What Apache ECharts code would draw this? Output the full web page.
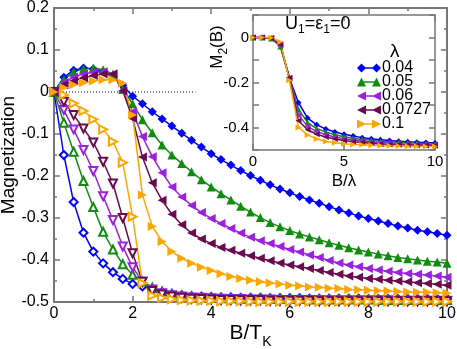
<!DOCTYPE html>
<html>
<head>
<meta charset="utf-8">
<script src="https://cdn.jsdelivr.net/npm/echarts/dist/echarts.min.js"></script>
<style>
html,body{margin:0;padding:0;background:#fff}
#chart{width:457px;height:349px}
</style>
</head>
<body>
<div id="chart"></div>
<script>
// main panel: B/T_K
var bt = [0,0.25,0.5,0.75,1,1.25,1.5,1.75,2,2.25,2.5,2.75,3,3.25,3.5,3.75,4,4.25,4.5,4.75,5,5.25,5.5,5.75,6,6.25,6.5,6.75,7,7.25,7.5,7.75,8,8.25,8.5,8.75,9,9.25,9.5,9.75,10];

// filled symbols (upper curves)
var blueFilled = [0,0.035,0.052,0.057,0.055,0.048,0.036,0.016,-0.010,-0.028,-0.047,-0.064,-0.081,-0.098,-0.115,-0.131,-0.147,-0.161,-0.174,-0.187,-0.199,-0.210,-0.221,-0.231,-0.240,-0.249,-0.257,-0.265,-0.273,-0.281,-0.288,-0.295,-0.301,-0.307,-0.313,-0.319,-0.324,-0.329,-0.333,-0.337,-0.341];
var greenFilled = [0,0.030,0.048,0.055,0.057,0.053,0.043,0.006,-0.028,-0.066,-0.097,-0.126,-0.150,-0.170,-0.190,-0.209,-0.226,-0.242,-0.257,-0.272,-0.286,-0.299,-0.311,-0.321,-0.330,-0.338,-0.345,-0.352,-0.359,-0.365,-0.371,-0.376,-0.381,-0.386,-0.390,-0.394,-0.397,-0.400,-0.403,-0.405,-0.408];
var purpleFilled = [0,0.022,0.036,0.043,0.047,0.048,0.043,0.002,-0.047,-0.106,-0.154,-0.192,-0.226,-0.250,-0.270,-0.287,-0.301,-0.313,-0.325,-0.336,-0.346,-0.354,-0.361,-0.368,-0.375,-0.381,-0.388,-0.394,-0.401,-0.407,-0.412,-0.416,-0.420,-0.424,-0.427,-0.430,-0.432,-0.434,-0.436,-0.438,-0.441];
var maroonFilled = [0,0.017,0.027,0.034,0.039,0.043,0.043,0.003,-0.063,-0.155,-0.216,-0.258,-0.291,-0.316,-0.336,-0.350,-0.361,-0.370,-0.377,-0.384,-0.390,-0.396,-0.402,-0.407,-0.412,-0.416,-0.420,-0.425,-0.430,-0.434,-0.438,-0.441,-0.444,-0.446,-0.448,-0.450,-0.452,-0.454,-0.456,-0.458,-0.460];
var orangeFilled = [0,0.011,0.017,0.022,0.026,0.029,0.029,0.021,-0.055,-0.245,-0.320,-0.356,-0.380,-0.396,-0.408,-0.417,-0.425,-0.433,-0.439,-0.444,-0.448,-0.452,-0.455,-0.457,-0.460,-0.462,-0.464,-0.465,-0.467,-0.468,-0.470,-0.471,-0.472,-0.473,-0.474,-0.475,-0.476,-0.477,-0.477,-0.478,-0.479];

// open symbols (lower curves)
var blueOpen = [0,-0.150,-0.262,-0.335,-0.380,-0.408,-0.429,-0.445,-0.457,-0.463,-0.472,-0.477,-0.481,-0.484,-0.486,-0.487,-0.488,-0.489,-0.489,-0.490,-0.490,-0.490,-0.491,-0.491,-0.491,-0.491,-0.492,-0.492,-0.492,-0.492,-0.492,-0.492,-0.493,-0.493,-0.493,-0.493,-0.493,-0.493,-0.493,-0.493,-0.493];
var greenOpen = [0,-0.073,-0.142,-0.212,-0.274,-0.333,-0.375,-0.410,-0.435,-0.451,-0.466,-0.475,-0.481,-0.485,-0.487,-0.489,-0.490,-0.491,-0.491,-0.492,-0.492,-0.492,-0.493,-0.493,-0.493,-0.493,-0.494,-0.494,-0.494,-0.494,-0.494,-0.494,-0.494,-0.495,-0.495,-0.495,-0.495,-0.495,-0.495,-0.495,-0.495];
var purpleOpen = [0,-0.043,-0.089,-0.138,-0.188,-0.248,-0.305,-0.368,-0.417,-0.452,-0.470,-0.479,-0.484,-0.487,-0.489,-0.490,-0.491,-0.492,-0.493,-0.493,-0.494,-0.494,-0.494,-0.495,-0.495,-0.495,-0.495,-0.495,-0.496,-0.496,-0.496,-0.496,-0.496,-0.496,-0.496,-0.497,-0.497,-0.497,-0.497,-0.497,-0.497];
var maroonOpen = [0,-0.023,-0.055,-0.087,-0.120,-0.166,-0.218,-0.300,-0.384,-0.452,-0.474,-0.482,-0.487,-0.490,-0.492,-0.493,-0.494,-0.495,-0.495,-0.496,-0.496,-0.496,-0.497,-0.497,-0.497,-0.497,-0.497,-0.498,-0.498,-0.498,-0.498,-0.498,-0.498,-0.498,-0.498,-0.498,-0.498,-0.498,-0.498,-0.498,-0.498];
var orangeOpen = [0,-0.007,-0.027,-0.045,-0.065,-0.089,-0.118,-0.168,-0.297,-0.455,-0.485,-0.490,-0.493,-0.495,-0.496,-0.497,-0.497,-0.498,-0.498,-0.498,-0.499,-0.499,-0.499,-0.499,-0.499,-0.499,-0.499,-0.499,-0.499,-0.499,-0.499,-0.499,-0.499,-0.499,-0.499,-0.499,-0.499,-0.499,-0.499,-0.499,-0.499];

// dotted zero reference
var zeroX = [0, 3.6];
var zeroY = [0, 0];

// inset: M2(B) vs B/lambda
var lambdas = ['0.04','0.05','0.06','0.0727','0.1'];
var ratio = [0,0.5,1,1.5,2,2.5,3,3.5,4,4.5,5,5.5,6,6.5,7,7.5,8,8.5,9,9.5,10];
var m2Blue = [0,0,-0.003,-0.035,-0.180,-0.290,-0.358,-0.388,-0.407,-0.420,-0.430,-0.438,-0.445,-0.450,-0.454,-0.458,-0.461,-0.463,-0.465,-0.467,-0.469];
var m2Green = [0,0,-0.004,-0.040,-0.180,-0.320,-0.378,-0.405,-0.420,-0.432,-0.441,-0.448,-0.453,-0.457,-0.461,-0.464,-0.466,-0.468,-0.470,-0.472,-0.474];
var m2Purple = [0,0,-0.003,-0.035,-0.180,-0.345,-0.395,-0.418,-0.432,-0.442,-0.450,-0.456,-0.460,-0.464,-0.467,-0.470,-0.472,-0.474,-0.475,-0.476,-0.477];
var m2Maroon = [0,0,-0.002,-0.030,-0.180,-0.370,-0.410,-0.430,-0.442,-0.451,-0.458,-0.463,-0.467,-0.470,-0.473,-0.475,-0.477,-0.478,-0.479,-0.480,-0.481];
var m2Orange = [0,0,-0.001,-0.020,-0.190,-0.400,-0.433,-0.451,-0.462,-0.468,-0.472,-0.475,-0.477,-0.479,-0.480,-0.481,-0.482,-0.483,-0.483,-0.484,-0.484];

var colors = ['#0000ff', '#118c11', '#9b20e0', '#6b0a4e', '#ffa500'];
var FONT = '"Liberation Sans", Arial, sans-serif';
var AX = '#777';

function pairs(xs, ys) {
  return xs.map(function (x, i) { return [x, ys[i]]; });
}

// symbol per colour: filled / open / rotation
var symFilled = [['diamond', 0], ['triangle', 0], ['triangle', 90], ['triangle', 90], ['triangle', -90]];
var symOpen = [['emptyDiamond', 0], ['emptyTriangle', 0], ['emptyTriangle', 180], ['emptyTriangle', 180], ['emptyTriangle', -90]];

// legend samples: marker - line - marker, like the original
var bar = 'M4 4.3H20V5.7H4Z';
var legendIcons = [
  'path://M0 5L4.5 0.5L9 5L4.5 9.5Z M15 5L19.5 0.5L24 5L19.5 9.5Z ' + bar,
  'path://M0 9.5L4.5 0.5L9 9.5Z M15 9.5L19.5 0.5L24 9.5Z ' + bar,
  'path://M0 5L9 0.5L9 9.5Z M15 5L24 0.5L24 9.5Z ' + bar,
  'path://M0 5L9 0.5L9 9.5Z M15 5L24 0.5L24 9.5Z ' + bar,
  'path://M0 0.5L9 5L0 9.5Z M15 0.5L24 5L15 9.5Z ' + bar
];

var filledData = [blueFilled, greenFilled, purpleFilled, maroonFilled, orangeFilled];
var openData = [blueOpen, greenOpen, purpleOpen, maroonOpen, orangeOpen];
var insetData = [m2Blue, m2Green, m2Purple, m2Maroon, m2Orange];

var series = [];
series.push({
  type: 'line', xAxisIndex: 0, yAxisIndex: 0, silent: true,
  data: pairs(zeroX, zeroY), symbol: 'none',
  lineStyle: { color: '#000', width: 1, type: [1, 2] }
});
for (var i = 0; i < 5; i++) {
  series.push({
    name: 'open' + lambdas[i], type: 'line', xAxisIndex: 0, yAxisIndex: 0,
    data: pairs(bt, openData[i]),
    symbol: symOpen[i][0], symbolRotate: symOpen[i][1], symbolSize: 8,
    lineStyle: { color: colors[i], width: 1.5 },
    itemStyle: { color: colors[i], borderWidth: 1 }
  });
}
for (var i = 0; i < 5; i++) {
  series.push({
    name: 'filled' + lambdas[i], type: 'line', xAxisIndex: 0, yAxisIndex: 0,
    data: pairs(bt, filledData[i]),
    symbol: symFilled[i][0], symbolRotate: symFilled[i][1], symbolSize: 9,
    lineStyle: { color: colors[i], width: 1.5 },
    itemStyle: { color: colors[i] }
  });
}
for (var i = 0; i < 5; i++) {
  series.push({
    name: lambdas[i], type: 'line', xAxisIndex: 2, yAxisIndex: 2, z: 8,
    data: pairs(ratio, insetData[i]),
    symbol: symFilled[i][0], symbolRotate: symFilled[i][1], symbolSize: 6,
    lineStyle: { color: colors[i], width: 1.5 },
    itemStyle: { color: colors[i] }
  });
}

function frameAxis(extra) {
  var base = {
    type: 'value',
    axisLine: { show: true, onZero: false, lineStyle: { color: AX, width: 2 } },
    axisTick: { show: true, inside: true, length: 6, lineStyle: { color: AX, width: 1.5 } },
    minorTick: { show: true, splitNumber: 2, length: 3, lineStyle: { color: AX, width: 1.5 } },
    splitLine: { show: false },
    minorSplitLine: { show: false },
    axisLabel: { show: false }
  };
  for (var k in extra) base[k] = extra[k];
  return base;
}
var insetLine = { show: true, onZero: false, lineStyle: { color: AX, width: 1.5 } };

var option = {
  animation: false,
  backgroundColor: '#fff',
  grid: [
    { left: 54, top: 8, width: 393, height: 294, containLabel: false, outerBoundsMode: 'none' },
    { left: 253, top: 15, width: 182, height: 135, show: true, backgroundColor: '#fff', borderWidth: 0, outerBoundsMode: 'none' }
  ],
  xAxis: [
    frameAxis({
      gridIndex: 0, position: 'bottom', min: 0, max: 10, interval: 2,
      axisLabel: { show: true, margin: 4, color: '#000', fontSize: 16, fontFamily: FONT },
      name: '{a|B/T}{b|K}', nameLocation: 'middle', nameGap: 21, nameMoveOverlap: false,
      nameTextStyle: { fontFamily: FONT, color: '#000', rich: {
        a: { fontSize: 21, fontFamily: FONT, color: '#000', verticalAlign: 'top' },
        b: { fontSize: 14, fontFamily: FONT, color: '#000', verticalAlign: 'top', padding: [12, 0, 0, 0] }
      } }
    }),
    frameAxis({ gridIndex: 0, position: 'top', min: 0, max: 10, interval: 2 }),
    frameAxis({
      gridIndex: 1, position: 'bottom', min: 0, max: 10, interval: 5, z: 6,
      axisLine: insetLine,
      minorTick: { show: false },
      axisLabel: { show: true, margin: 4, color: '#000', fontSize: 15, fontFamily: FONT },
      name: 'B/λ', nameLocation: 'middle', nameGap: 23,
      nameTextStyle: { fontSize: 17, fontFamily: FONT, color: '#000' }
    }),
    frameAxis({ gridIndex: 1, position: 'top', min: 0, max: 10, interval: 5, z: 6,
      axisLine: insetLine, minorTick: { show: false } })
  ],
  yAxis: [
    frameAxis({
      gridIndex: 0, position: 'left', min: -0.5, max: 0.2, interval: 0.1,
      axisLabel: { show: true, margin: 5, color: '#000', fontSize: 16, fontFamily: FONT },
      name: 'Magnetization', nameLocation: 'middle', nameGap: 36, nameRotate: 90,
      nameMoveOverlap: false,
      nameTextStyle: { fontSize: 19, fontFamily: FONT, color: '#000' }
    }),
    frameAxis({ gridIndex: 0, position: 'right', min: -0.5, max: 0.2, interval: 0.1 }),
    frameAxis({
      gridIndex: 1, position: 'left', min: -0.5, max: 0.1, interval: 0.1, z: 6,
      axisLine: insetLine,
      minorTick: { show: false },
      axisLabel: { show: true, margin: 4, color: '#000', fontSize: 15, fontFamily: FONT,
        formatter: function (v) {
          var r = Math.round(v * 10);
          return (r === 0 || r === -2 || r === -4) ? String(r / 10) : '';
        } }
    }),
    frameAxis({ gridIndex: 1, position: 'right', min: -0.5, max: 0.1, interval: 0.1, z: 6,
      axisLine: insetLine, minorTick: { show: false } })
  ],
  legend: {
    data: lambdas.map(function (name, i) { return { name: name, icon: legendIcons[i] }; }),
    orient: 'vertical', left: 357, top: 60, padding: 0,
    itemWidth: 24, itemHeight: 10, itemGap: -2, z: 10, symbolRotate: 0,
    textStyle: { fontSize: 16, fontFamily: FONT, color: '#000', padding: [0, 0, 0, -4] }
  },
  graphic: [
    { type: 'text', left: 285, top: 15, z: 20, style: {
      text: '{a|U}{b|1}{a|=ε}{b|1}{a|=0}', fontFamily: FONT, fill: '#000',
      rich: {
        a: { fontSize: 18, fontFamily: FONT, fill: '#000', verticalAlign: 'top' },
        b: { fontSize: 12, fontFamily: FONT, fill: '#000', verticalAlign: 'top', padding: [9, 0, 0, 0] }
      } } },
    { type: 'text', left: 390, top: 42, z: 20, style: { text: 'λ', fontSize: 19, fontFamily: FONT, fill: '#000' } },
    { type: 'text', x: 219, y: 47, rotation: Math.PI / 2, z: 20, style: {
      text: '{a|M}{b|2}{a|(B)}', fontFamily: FONT, fill: '#000', align: 'center', verticalAlign: 'middle',
      rich: {
        a: { fontSize: 17, fontFamily: FONT, fill: '#000', verticalAlign: 'top' },
        b: { fontSize: 12, fontFamily: FONT, fill: '#000', verticalAlign: 'top', padding: [9, 0, 0, 0] }
      } } }
  ],
  series: series
};

var chart = echarts.init(document.getElementById('chart'), null, { renderer: 'canvas' });
chart.setOption(option);
</script>
</body>
</html>
